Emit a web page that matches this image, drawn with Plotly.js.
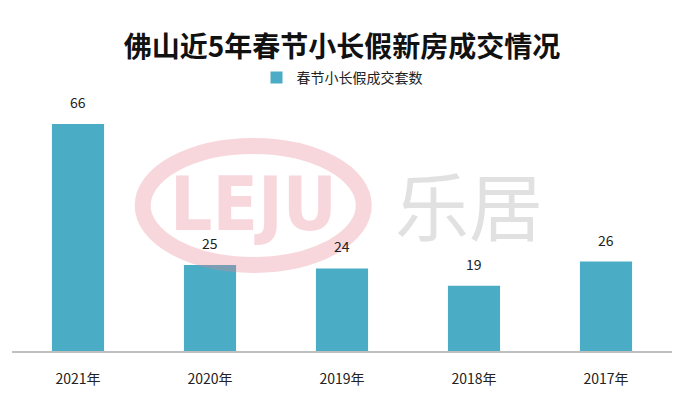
<!DOCTYPE html>
<html><head><meta charset="utf-8">
<script src="https://cdn.plot.ly/plotly-3.0.1.min.js"></script>
<style>html,body{margin:0;padding:0;background:#fff;}</style>
</head><body>
<div id="chart" style="width:684px;height:397px;"></div>
<script>
const categories = ["2021年", "2020年", "2019年", "2018年", "2017年"];
const values = [66, 25, 24, 19, 26];
const seriesName = "春节小长假成交套数";
const titleText = "佛山近5年春节小长假新房成交情况";

const font = '"Noto Sans CJK SC", "Noto Sans", sans-serif';

const trace = {
  type: 'bar',
  x: categories,
  y: values,
  name: seriesName,
  marker: {color: '#4BACC6'},
  width: 0.395,
  hoverinfo: 'x+y'
};

const valueLabels = categories.map((c, i) => ({
  x: c, y: values[i], xref: 'x', yref: 'y',
  text: String(values[i]), showarrow: false,
  yanchor: 'bottom', yshift: 10,
  font: {family: font, size: 14, color: '#222'}
}));

const layout = {
  width: 684, height: 397,
  margin: {l: 12, r: 12, t: 100, b: 46},
  paper_bgcolor: '#fff', plot_bgcolor: 'rgba(0,0,0,0)',
  title: {text: titleText, font: {family: font, size: 28, color: '#111', weight: 'bold'}, x: 0.5, xanchor: 'center', y: 0.882, yanchor: 'middle'},
  showlegend: true,
  legend: {orientation: 'h', x: 0.5, xanchor: 'center', y: 1.088, yanchor: 'middle', itemwidth: 30, font: {family: font, size: 14, color: '#222'}},
  xaxis: {showline: true, linecolor: '#BFBFBF', linewidth: 1.5, ticks: '', ticklabelstandoff: 15, tickfont: {family: font, size: 14, color: '#222'}, fixedrange: true},
  yaxis: {range: [0, 73], visible: false, showgrid: false, zeroline: false, fixedrange: true},
  shapes: [
    {type: 'circle', xref: 'paper', yref: 'paper', layer: 'above', x0: 0.198, x1: 0.533, y0: 0.343, y1: 0.817, line: {color: 'rgba(230,130,145,0.32)', width: 16}}
  ],
  annotations: valueLabels.concat([
    {xref: 'paper', yref: 'paper', x: 0.366, y: 0.586, text: '<b>LEJU</b>', showarrow: false, font: {family: '"DejaVu Sans Condensed", "DejaVu Sans"', size: 74, color: 'rgba(230,130,145,0.32)'}},
    {xref: 'paper', yref: 'paper', x: 0.577, xanchor: 'left', y: 0.59, text: '乐居', showarrow: false, font: {family: font, size: 74, color: 'rgba(170,170,170,0.35)'}}
  ])
};

Plotly.newPlot('chart', [trace], layout, {displayModeBar: false, staticPlot: true});
</script>
</body></html>
